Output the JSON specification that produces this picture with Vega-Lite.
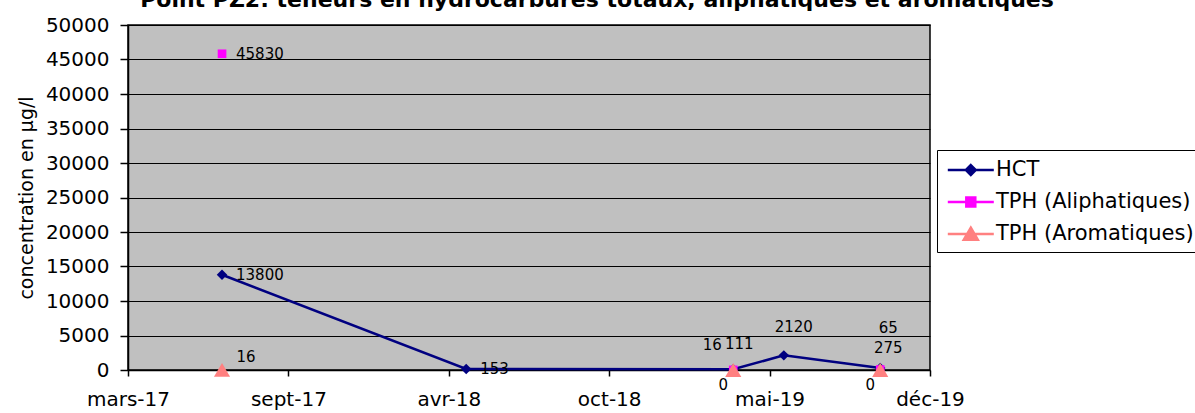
{
  "$schema": "https://vega.github.io/schema/vega-lite/v6.json",
  "width": 802,
  "height": 345,
  "autosize": {"type": "none"},
  "padding": {"left": 128, "top": 25, "right": 265, "bottom": 43},
  "background": "white",
  "config": {
    "font": "DejaVu Sans",
    "view": {"fill": "#C0C0C0", "stroke": "black", "strokeWidth": 1.5}
  },
  "title": {
    "text": "Point PZ2: teneurs en hydrocarbures totaux, aliphatiques et aromatiques",
    "font": "DejaVu Sans",
    "fontSize": 22,
    "fontWeight": "bold",
    "color": "black",
    "anchor": "middle",
    "baseline": "alphabetic",
    "dx": 68,
    "dy": 14,
    "offset": 0
  },
  "data": {
    "values": [
      {"date": "2017-06-28", "series": "HCT", "value": 13800},
      {"date": "2018-05-03", "series": "HCT", "value": 153},
      {"date": "2019-04-06", "series": "HCT", "value": 111},
      {"date": "2019-06-09", "series": "HCT", "value": 2120},
      {"date": "2019-10-09", "series": "HCT", "value": 275},
      {"date": "2017-06-28", "series": "TPH (Aliphatiques)", "value": 45830},
      {"date": "2019-04-06", "series": "TPH (Aliphatiques)", "value": 16},
      {"date": "2019-10-09", "series": "TPH (Aliphatiques)", "value": 65},
      {"date": "2017-06-28", "series": "TPH (Aromatiques)", "value": 16},
      {"date": "2019-04-06", "series": "TPH (Aromatiques)", "value": 0},
      {"date": "2019-10-09", "series": "TPH (Aromatiques)", "value": 0}
    ]
  },
  "encoding": {
    "x": {
      "field": "date",
      "type": "temporal",
      "scale": {
        "type": "utc",
        "domain": [
          {"year": 2017, "month": 3, "date": 1, "utc": true},
          {"year": 2019, "month": 12, "date": 11, "utc": true}
        ]
      },
      "axis": {
        "title": null,
        "grid": false,
        "values": [
          {"year": 2017, "month": 3, "date": 1, "utc": true},
          {"year": 2017, "month": 9, "date": 20, "utc": true},
          {"year": 2018, "month": 4, "date": 11, "utc": true},
          {"year": 2018, "month": 10, "date": 31, "utc": true},
          {"year": 2019, "month": 5, "date": 22, "utc": true},
          {"year": 2019, "month": 12, "date": 11, "utc": true}
        ],
        "labelExpr": "['janv','févr','mars','avr','mai','juin','juil','août','sept','oct','nov','déc'][utcmonth(datum.value)] + '-' + utcFormat(datum.value, '%y')",
        "labelFont": "DejaVu Sans",
        "labelFontSize": 20,
        "labelColor": "black",
        "labelPadding": 13,
        "labelFlush": false,
        "labelOverlap": false,
        "domainColor": "black",
        "domainWidth": 1.5,
        "tickColor": "black",
        "tickSize": 6,
        "tickWidth": 1.5
      }
    },
    "y": {
      "field": "value",
      "type": "quantitative",
      "scale": {"domain": [0, 50000], "nice": false},
      "axis": {
        "title": "concentration en µg/l",
        "titleFont": "DejaVu Sans",
        "titleFontSize": 19,
        "titleFontWeight": "normal",
        "titleColor": "black",
        "titlePadding": 9,
        "values": [0, 5000, 10000, 15000, 20000, 25000, 30000, 35000, 40000, 45000, 50000],
        "format": "d",
        "labelFont": "DejaVu Sans",
        "labelFontSize": 20,
        "labelColor": "black",
        "labelPadding": 11,
        "grid": true,
        "gridColor": "black",
        "gridOpacity": 1,
        "gridWidth": 1.2,
        "domainColor": "black",
        "domainWidth": 1.5,
        "tickColor": "black",
        "tickSize": 8,
        "tickWidth": 1.5
      }
    }
  },
  "layer": [
    {
      "transform": [{"filter": "false"}],
      "mark": {"type": "point", "filled": true, "opacity": 1, "size": 529},
      "encoding": {
        "color": {
          "field": "series",
          "type": "nominal",
          "scale": {
            "domain": ["HCT", "TPH (Aliphatiques)", "TPH (Aromatiques)"],
            "range": ["#000080", "#FF00FF", "#FF8080"]
          },
          "legend": {
            "title": null,
            "orient": "none",
            "legendX": 809,
            "legendY": 125,
            "direction": "vertical",
            "strokeColor": "black",
            "fillColor": "white",
            "padding": 7,
            "labelFont": "DejaVu Sans",
            "labelFontSize": 21,
            "labelColor": "black",
            "labelOffset": 26,
            "labelLimit": 400,
            "symbolSize": 529,
            "symbolStrokeWidth": 2.5,
            "symbolOpacity": 1,
            "rowPadding": 9
          }
        },
        "stroke": {
          "field": "series",
          "type": "nominal",
          "scale": {
            "domain": ["HCT", "TPH (Aliphatiques)", "TPH (Aromatiques)"],
            "range": ["#000080", "#FF00FF", "#FF8080"]
          },
          "legend": {
            "title": null,
            "orient": "none",
            "legendX": 809,
            "legendY": 125
          }
        },
        "shape": {
          "field": "series",
          "type": "nominal",
          "scale": {
            "domain": ["HCT", "TPH (Aliphatiques)", "TPH (Aromatiques)"],
            "range": [
              "M-0.8,0H3.2M1.2,-0.43L1.63,0L1.2,0.43L0.77,0Z",
              "M-0.8,0H3.2M0.81,-0.39H1.59V0.39H0.81Z",
              "M-0.8,0H3.2M1.2,-0.55L1.81,0.5H0.59Z"
            ]
          },
          "legend": {
            "title": null,
            "orient": "none",
            "legendX": 809,
            "legendY": 125
          }
        }
      }
    },
    {
      "transform": [{"filter": "datum.series == 'HCT'"}],
      "mark": {"type": "line", "color": "#000080", "strokeWidth": 2.5},
      "encoding": {}
    },
    {
      "transform": [{"filter": "datum.series == 'HCT'"}],
      "mark": {"type": "point", "filled": true, "opacity": 1, "shape": "diamond", "size": 110, "color": "#000080"},
      "encoding": {}
    },
    {
      "transform": [{"filter": "datum.series == 'TPH (Aliphatiques)'"}],
      "mark": {"type": "point", "filled": true, "opacity": 1, "shape": "square", "size": 75, "color": "#FF00FF"},
      "encoding": {}
    },
    {
      "transform": [{"filter": "datum.series == 'TPH (Aromatiques)'"}],
      "mark": {"type": "point", "filled": true, "opacity": 1, "shape": "triangle-up", "size": 260, "color": "#FF8080"},
      "encoding": {}
    },
    {
      "transform": [{"filter": "(datum.series == 'HCT' && (datum.value == 13800 || datum.value == 153)) || (datum.series == 'TPH (Aliphatiques)' && datum.value == 45830)"}],
      "mark": {"type": "text", "align": "left", "baseline": "middle", "dx": 14, "font": "DejaVu Sans", "fontSize": 15, "color": "black"},
      "encoding": {"text": {"field": "value", "type": "quantitative", "format": "d"}}
    },
    {
      "transform": [{"filter": "datum.series == 'HCT' && datum.value == 111"}],
      "mark": {"type": "text", "align": "center", "baseline": "middle", "dx": 6, "dy": -25, "font": "DejaVu Sans", "fontSize": 15, "color": "black"},
      "encoding": {"text": {"field": "value", "type": "quantitative", "format": "d"}}
    },
    {
      "transform": [{"filter": "datum.series == 'HCT' && datum.value == 2120"}],
      "mark": {"type": "text", "align": "center", "baseline": "middle", "dx": 10, "dy": -28, "font": "DejaVu Sans", "fontSize": 15, "color": "black"},
      "encoding": {"text": {"field": "value", "type": "quantitative", "format": "d"}}
    },
    {
      "transform": [{"filter": "datum.series == 'HCT' && datum.value == 275"}],
      "mark": {"type": "text", "align": "center", "baseline": "middle", "dx": 8, "dy": -20, "font": "DejaVu Sans", "fontSize": 15, "color": "black"},
      "encoding": {"text": {"field": "value", "type": "quantitative", "format": "d"}}
    },
    {
      "transform": [{"filter": "datum.series == 'TPH (Aliphatiques)' && datum.value == 16"}],
      "mark": {"type": "text", "align": "center", "baseline": "middle", "dx": -21, "dy": -25, "font": "DejaVu Sans", "fontSize": 15, "color": "black"},
      "encoding": {"text": {"field": "value", "type": "quantitative", "format": "d"}}
    },
    {
      "transform": [{"filter": "datum.series == 'TPH (Aliphatiques)' && datum.value == 65"}],
      "mark": {"type": "text", "align": "center", "baseline": "middle", "dx": 8, "dy": -42, "font": "DejaVu Sans", "fontSize": 15, "color": "black"},
      "encoding": {"text": {"field": "value", "type": "quantitative", "format": "d"}}
    },
    {
      "transform": [{"filter": "datum.series == 'TPH (Aromatiques)' && datum.value == 16"}],
      "mark": {"type": "text", "align": "center", "baseline": "middle", "dx": 24, "dy": -13, "font": "DejaVu Sans", "fontSize": 15, "color": "black"},
      "encoding": {"text": {"field": "value", "type": "quantitative", "format": "d"}}
    },
    {
      "transform": [{"filter": "datum.series == 'TPH (Aromatiques)' && datum.value == 0"}],
      "mark": {"type": "text", "align": "center", "baseline": "middle", "dx": -10, "dy": 15, "font": "DejaVu Sans", "fontSize": 15, "color": "black"},
      "encoding": {"text": {"field": "value", "type": "quantitative", "format": "d"}}
    }
  ]
}
